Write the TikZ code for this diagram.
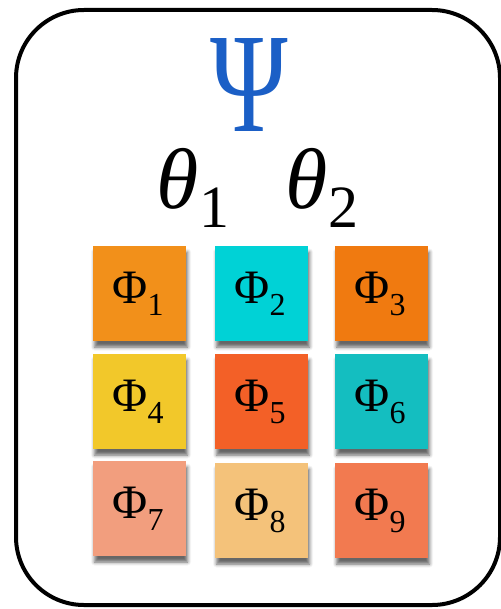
\documentclass[tikz,border=0pt]{standalone}
\usepackage{fontspec}
\setmainfont{Liberation Serif}
\usetikzlibrary{shadows.blur}
\definecolor{psiblue}{HTML}{1B5FC6}
\definecolor{cA}{HTML}{F2901A}
\definecolor{cB}{HTML}{00D2D6}
\definecolor{cC}{HTML}{F07A10}
\definecolor{cD}{HTML}{F2C82A}
\definecolor{cE}{HTML}{F36027}
\definecolor{cF}{HTML}{14BEC0}
\definecolor{cG}{HTML}{F29E7E}
\definecolor{cH}{HTML}{F4C27A}
\definecolor{cI}{HTML}{F27A50}
\newcommand{\phisub}[1]{\raisebox{-12pt}{\fontsize{32}{34}\selectfont #1}}
\newcommand{\thsub}[1]{\raisebox{-19pt}{\fontsize{60}{62}\selectfont #1}}
\begin{document}
\begin{tikzpicture}[x=1pt,y=-1pt,
  frame/.style={draw=black, line width=4pt, rounded corners=68pt},
  sqbox/.style={minimum width=93pt, minimum height=95pt, inner sep=0pt, outer sep=0pt,
    blur shadow={shadow xshift=1.5pt, shadow yshift=-6pt, shadow blur radius=3.5pt, shadow opacity=60}},
  phitxt/.style={anchor=base, inner sep=0pt, font=\fontsize{48}{50}\selectfont},
  thtxt/.style={anchor=base, inner sep=0pt},
  psitxt/.style={anchor=base, inner sep=0pt, text=psiblue}]
\useasboundingbox (0,0) rectangle (500,609);
\draw[frame] (16,10) rectangle (500,605);
\node[psitxt] (psi) at (249,132) {\scalebox{0.74}[1]{\fontsize{142}{150}\selectfont Ψ}};
\node[thtxt] (th1) at (193,209) {{\fontsize{86}{90}\selectfont\itshape θ}\thsub{1}};
\node[thtxt] (th2) at (322,209) {{\fontsize{86}{90}\selectfont\itshape θ}\thsub{2}};
% squares
\node[sqbox, fill=cA] (s1) at (139.5,293.5) {};
\node[sqbox, fill=cB] (s2) at (261.5,293.5) {};
\node[sqbox, fill=cC] (s3) at (381.5,293.5) {};
\node[sqbox, fill=cD] (s4) at (139.5,401.5) {};
\node[sqbox, fill=cE] (s5) at (261.5,401.5) {};
\node[sqbox, fill=cF] (s6) at (381.5,401.5) {};
\node[sqbox, fill=cG] (s7) at (139.5,508.5) {};
\node[sqbox, fill=cH] (s8) at (261.5,510.5) {};
\node[sqbox, fill=cI] (s9) at (381.5,510.5) {};
% labels
\node[phitxt] (p1) at (138,303) {Φ\phisub{1}};
\node[phitxt] (p2) at (260,303) {Φ\phisub{2}};
\node[phitxt] (p3) at (380,303) {Φ\phisub{3}};
\node[phitxt] (p4) at (138,411) {Φ\phisub{4}};
\node[phitxt] (p5) at (260,411) {Φ\phisub{5}};
\node[phitxt] (p6) at (380,411) {Φ\phisub{6}};
\node[phitxt] (p7) at (138,518) {Φ\phisub{7}};
\node[phitxt] (p8) at (260,520) {Φ\phisub{8}};
\node[phitxt] (p9) at (380,520) {Φ\phisub{9}};
\end{tikzpicture}
\end{document}
